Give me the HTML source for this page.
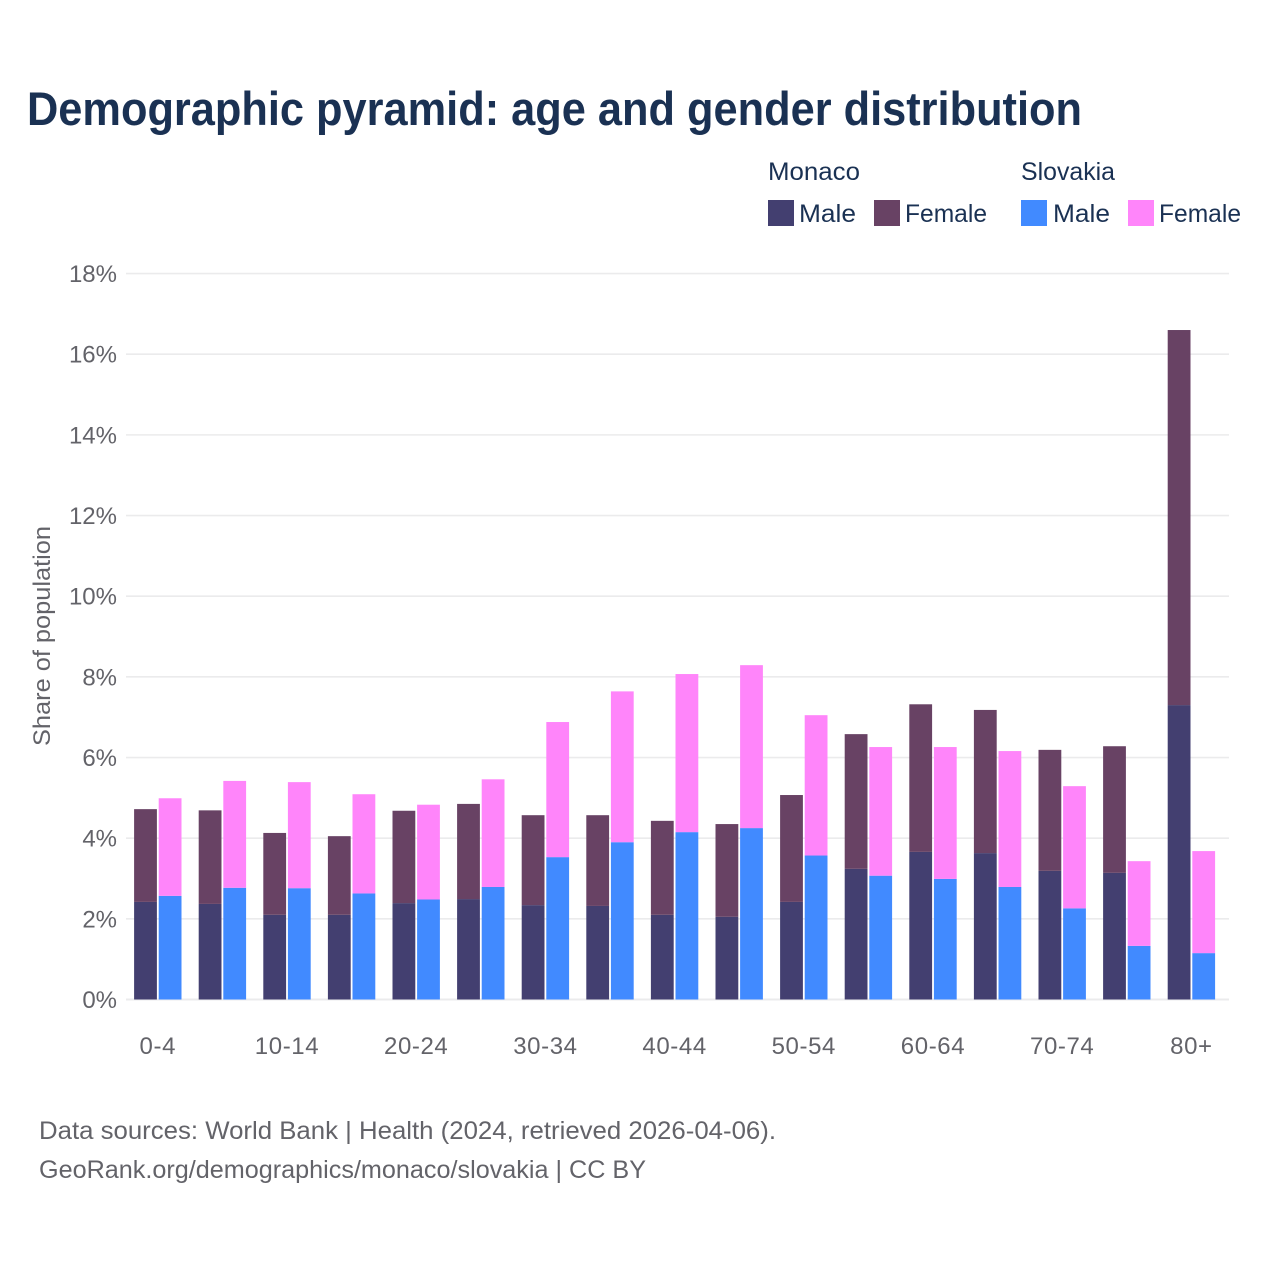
<!DOCTYPE html>
<html lang="en">
<head>
<meta charset="utf-8">
<title>Demographic pyramid: age and gender distribution</title>
<style>
html,body{margin:0;padding:0;background:#fff;}
svg{display:block;font-family:"Liberation Sans",sans-serif;}
.navy{fill:#1a3153;}
.gray{fill:#636369;}
</style>
</head>
<body>
<svg id="chart" xmlns="http://www.w3.org/2000/svg" width="1280" height="1280" viewBox="0 0 1280 1280">
  <rect x="0" y="0" width="1280" height="1280" fill="#ffffff"/>
  <text class="navy" x="27" y="125" font-size="47" font-weight="700" textLength="1055" lengthAdjust="spacingAndGlyphs">Demographic pyramid: age and gender distribution</text>

  <g font-size="25">
    <text class="navy" x="768" y="180" textLength="92" lengthAdjust="spacingAndGlyphs">Monaco</text>
    <text class="navy" x="1021" y="180" textLength="94" lengthAdjust="spacingAndGlyphs">Slovakia</text>
    <rect x="768" y="200" width="26" height="26" fill="#433f70"/>
    <text class="navy" x="799" y="222" textLength="57" lengthAdjust="spacingAndGlyphs">Male</text>
    <rect x="874" y="200" width="26" height="26" fill="#684264"/>
    <text class="navy" x="905" y="222" textLength="82" lengthAdjust="spacingAndGlyphs">Female</text>
    <rect x="1021" y="200" width="26" height="26" fill="#418aff"/>
    <text class="navy" x="1053" y="222" textLength="57" lengthAdjust="spacingAndGlyphs">Male</text>
    <rect x="1128" y="200" width="26" height="26" fill="#ff85fa"/>
    <text class="navy" x="1159" y="222" textLength="82" lengthAdjust="spacingAndGlyphs">Female</text>
  </g>

  <g id="grid"></g>
  <g id="yticks"></g>
  <g id="xticks"></g>
  <g id="bars"></g>

  <text class="gray" transform="translate(50,636) rotate(-90)" text-anchor="middle" font-size="24" textLength="220" lengthAdjust="spacingAndGlyphs">Share of population</text>

  <text class="gray" x="39" y="1139" font-size="25" textLength="737" lengthAdjust="spacingAndGlyphs">Data sources: World Bank | Health (2024, retrieved 2026-04-06).</text>
  <text class="gray" x="39" y="1178" font-size="25" textLength="607" lengthAdjust="spacingAndGlyphs">GeoRank.org/demographics/monaco/slovakia | CC BY</text>
</svg>
<script>
const ageGroups = ["0-4","5-9","10-14","15-19","20-24","25-29","30-34","35-39","40-44","45-49","50-54","55-59","60-64","65-69","70-74","75-79","80+"];
const monacoMale = [2.42,2.37,2.10,2.10,2.39,2.49,2.34,2.32,2.10,2.05,2.42,3.24,3.66,3.63,3.19,3.14,7.30];
const monacoFemale = [2.30,2.32,2.03,1.95,2.29,2.36,2.23,2.25,2.33,2.30,2.65,3.34,3.66,3.55,3.00,3.14,9.30];
const slovakiaMale = [2.57,2.77,2.76,2.63,2.48,2.79,3.53,3.90,4.15,4.25,3.57,3.07,2.99,2.79,2.26,1.33,1.15];
const slovakiaFemale = [2.42,2.65,2.63,2.46,2.35,2.67,3.35,3.74,3.92,4.04,3.48,3.19,3.27,3.37,3.03,2.10,2.53];
const yTickValues = [0,2,4,6,8,10,12,14,16,18];

const NS = "http://www.w3.org/2000/svg";
const plotLeft = 126, plotRight = 1229, baseline = 999.5, pxPerUnit = 40.33;
const firstCenter = 157.8, step = 64.6, barWidth = 22.8, barOffset = 12.3;
function xScale(i){ return firstCenter + step * i; }
function yScale(v){ return baseline - pxPerUnit * v; }

const gridGroup = document.getElementById("grid");
const yTickGroup = document.getElementById("yticks");
const xTickGroup = document.getElementById("xticks");
const barGroup = document.getElementById("bars");

yTickValues.forEach(function(v){
  const line = document.createElementNS(NS, "line");
  
  
  line.setAttribute("x1", plotLeft);
  line.setAttribute("x2", plotRight);
  line.setAttribute("y1", yScale(v));
  line.setAttribute("y2", yScale(v));
  line.setAttribute("stroke", "#ebebec");
  line.setAttribute("stroke-width", v === 0 ? 2 : 1.6);
  gridGroup.appendChild(line);

  const label = document.createElementNS(NS, "text");
  
  
  label.setAttribute("x", 117);
  label.setAttribute("y", yScale(v) + 8.5);
  label.setAttribute("text-anchor", "end");
  label.setAttribute("font-size", 24);
  label.setAttribute("class", "gray");
  label.textContent = v + "%";
  yTickGroup.appendChild(label);
});

ageGroups.forEach(function(name, i){
  if (i % 2 === 0) {
    const label = document.createElementNS(NS, "text");
    
    
    label.setAttribute("x", xScale(i));
    label.setAttribute("y", 1054);
    label.setAttribute("text-anchor", "middle");
    label.setAttribute("font-size", 24);
    label.setAttribute("letter-spacing", "0.6");
    label.setAttribute("class", "gray");
    label.textContent = name;
    xTickGroup.appendChild(label);
  }
});

function addBar(i, offset, start, value, fill, name){
  const rect = document.createElementNS(NS, "rect");
  
  
  rect.setAttribute("x", xScale(i) + offset - barWidth / 2);
  rect.setAttribute("y", yScale(start + value));
  rect.setAttribute("width", barWidth);
  rect.setAttribute("height", pxPerUnit * value);
  rect.setAttribute("fill", fill);
  barGroup.appendChild(rect);
}

ageGroups.forEach(function(name, i){
  addBar(i, -barOffset, 0, monacoMale[i], "#433f70", "bar-monaco-male");
  addBar(i, -barOffset, monacoMale[i], monacoFemale[i], "#684264", "bar-monaco-female");
  addBar(i, barOffset, 0, slovakiaMale[i], "#418aff", "bar-slovakia-male");
  addBar(i, barOffset, slovakiaMale[i], slovakiaFemale[i], "#ff85fa", "bar-slovakia-female");
});
</script>
</body>
</html>
